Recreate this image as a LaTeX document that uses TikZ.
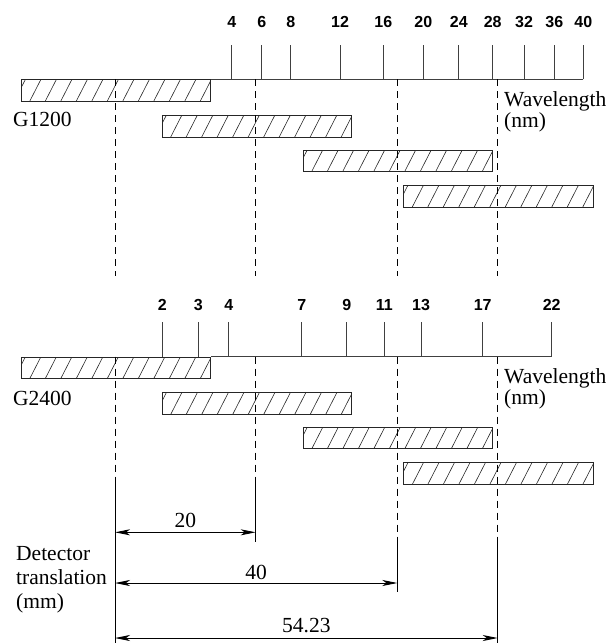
\documentclass[tikz,border=0pt]{standalone}
\usepackage{fontspec}
\setmainfont{Liberation Serif}
\newfontfamily\ticksans{Liberation Sans}
\usetikzlibrary{arrows.meta}

\tikzset{
  bar/.style={draw=black!85, line width=1pt, minimum width=189.3pt, minimum height=21.5pt,
    inner sep=0pt, anchor=north west, path picture={
      \foreach \k in {0,...,13}
        \draw[line width=0.6pt, black!85] ([xshift=\k*15.5pt-7pt]path picture bounding box.south west) -- ++(11pt,21.5pt);}},
  tick/.style={line width=1pt, black!75},
  ticklbl/.style={font=\ticksans\bfseries\fontsize{16}{16}\selectfont, anchor=base, inner sep=0pt},
  lbl/.style={font=\fontsize{21.5}{24.5}\selectfont, inner sep=0pt, anchor=base west},
  guide/.style={line width=0.9pt, dash pattern=on 7pt off 5pt},
  ext/.style={line width=0.9pt},
  dim/.style={line width=0.9pt, {Stealth[length=15pt,width=6pt,inset=4pt]}-{Stealth[length=15pt,width=6pt,inset=4pt]}},
}

\begin{document}
\begin{tikzpicture}[x=1pt, y=-1pt]
  \useasboundingbox (0,0) rectangle (606,643);

  % G1200
  \foreach \x/\l in {231.7/4,261.7/6,290.7/8,340/12,383.3/16,423.3/20,458.8/24,492.7/28,524/32,554.3/36,583.3/40}{
    \draw[tick] (\x,79.3) -- (\x,44.5);
    \node[ticklbl] (ta\l) at (\x,27.3) {\l};
  }
  \node[bar] (g1a) at (20.7,79.3) {};
  \node[bar] (g1b) at (161.7,115) {};
  \node[bar] (g1c) at (302.7,149.5) {};
  \node[bar] (g1d) at (403.3,185) {};
  \coordinate (axa) at (583.3,79.3);
  \draw[tick] (g1a.north east) -- (axa);
  \node[lbl] (g1name) at (13,126.7) {G1200};
  \node[lbl] (wla) at (504,106) {Wavelength};
  \node[lbl] (nma) at (504,127.3) {(nm)};
  \foreach \n/\x in {a/115,b/255.7,c/397.3,d/497.7}{
    \coordinate (top\n) at (\x,79.3);
    \coordinate (mid\n) at (\x,276);
    \draw[guide] (top\n) -- (mid\n);
  }

  % G2400
  \foreach \x/\l in {162.3/2,198.3/3,228.7/4,301.7/7,346.7/9,384.3/11,421/13,482.7/17,551.7/22}{
    \draw[tick] (\x,356.7) -- (\x,321.9);
    \node[ticklbl] (tb\l) at (\x,310.7) {\l};
  }
  \node[bar] (g2a) at (20.7,356.7) {};
  \node[bar] (g2b) at (161.7,392.4) {};
  \node[bar] (g2c) at (302.7,426.9) {};
  \node[bar] (g2d) at (403.3,462.4) {};
  \coordinate (axb) at (551.7,356.7);
  \draw[tick] (g2a.north east) -- (axb);
  \node[lbl] (g2name) at (13,405) {G2400};
  \node[lbl] (wlb) at (504,383.4) {Wavelength};
  \node[lbl] (nmb) at (504,404.7) {(nm)};
  \foreach \n/\x/\ys/\ye in {a/115/478/643,b/255.7/478/541.7,c/397.3/540/591.7,d/497.7/540/643}{
    \coordinate (ax\n) at (\x,356.7);
    \coordinate (br\n) at (\x,\ys);
    \coordinate (end\n) at (\x,\ye);
    \draw[guide] (ax\n) -- (br\n);
    \draw[ext] (br\n) -- (end\n);
  }

  % detector translation
  \node[lbl] (det) at (16,560) {Detector};
  \node[lbl] (trn) at (16,584.3) {translation};
  \node[lbl] (mm) at (16,608.3) {(mm)};
  \coordinate (lv20) at (0,532.3);
  \coordinate (lv40) at (0,583);
  \coordinate (lv54) at (0,638);
  \draw[dim] (enda |- lv20) -- node[lbl, anchor=base, yshift=5pt] (d20) {20} (endb |- lv20);
  \draw[dim] (enda |- lv40) -- node[lbl, anchor=base, yshift=4pt] (d40) {40} (endc |- lv40);
  \draw[dim] (enda |- lv54) -- node[lbl, anchor=base, yshift=6pt] (d54) {54.23} (endd |- lv54);
\end{tikzpicture}
\end{document}
